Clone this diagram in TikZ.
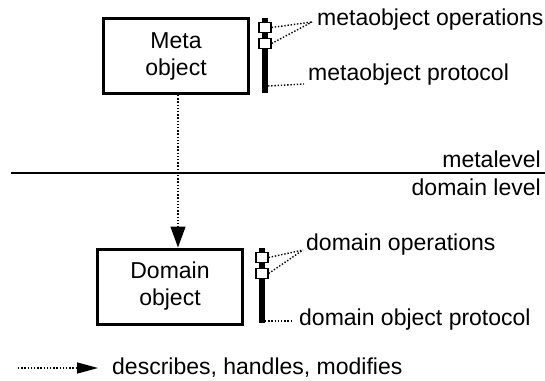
\documentclass[tikz,border=0pt]{standalone}
\usepackage{fontspec}
\setmainfont{Liberation Sans}
\usetikzlibrary{arrows.meta}
\begin{document}
\begin{tikzpicture}[x=1pt,y=-1pt,
  txt/.style={inner sep=0pt,font=\fontsize{23}{27}\selectfont},
  objbox/.style={draw,line width=3pt,minimum width=145pt,minimum height=75pt,align=center,inner sep=0pt,font=\fontsize{23}{27}\selectfont},
  bar/.style={fill=black,draw=none,minimum width=6pt,inner sep=0pt},
  opsq/.style={draw,fill=white,line width=1.2pt,minimum width=12pt,minimum height=10pt,inner sep=0pt},
  dots/.style={line width=1.4pt,dash pattern=on 1.4pt off 1.8pt},
  lbl/.style={txt,anchor=west}]
\useasboundingbox (0,0) rectangle (545,380);

% meta level
\node[objbox] (meta) at (176,56) {Meta\\object};
\node[bar,minimum height=75pt] (mbar) at (265,55.5) {};
\node[opsq] (mop1) at (265,27.5) {};
\node[opsq] (mop2) at (265,43.5) {};
\node[lbl] (mopl) at (317,20) {metaobject operations};
\node[lbl] (mprl) at (308,75) {metaobject protocol};
\coordinate (mopc) at (312,22);
\draw[dots] (mop1.east) -- (mopc);
\draw[dots] (mop2.east) -- (mopc);
\coordinate (mbarend) at (268,86);
\draw[dots] (mbarend) -- (304,84);

% level separator
\coordinate (sepL) at (11,173);
\coordinate (sepR) at (545,173);
\draw[line width=1.3pt] (sepL) -- (sepR);
\node[txt,anchor=east] (metalevel) at (541,159) {metalevel};
\node[txt,anchor=east] (domlevel) at (541,187) {domain level};

% domain level
\node[objbox] (dom) at (170,286.5) {Domain\\object};
\node[bar,minimum height=75pt] (dbar) at (261.5,285.5) {};
\node[opsq] (dop1) at (262,257.5) {};
\node[opsq] (dop2) at (262,273.5) {};
\node[lbl] (dopl) at (306,245) {domain operations};
\node[lbl] (dprl) at (299,320) {domain object protocol};
\coordinate (dopc) at (303,250);
\draw[dots] (dop1.east) -- (dopc);
\draw[dots] (dop2.east) -- (dopc);
\coordinate (dbarend) at (265,321);
\draw[dots] (dbarend) -- (293,321);

% relation
\draw[dots,-{Triangle[length=21pt,width=15pt]}] (meta.south -| 178,0) -- (dom.north -| 178,0);

% legend
\coordinate (legA) at (18,368);
\node[lbl] (legt) at (112,368) {describes, handles, modifies};
\draw[dots,-{Triangle[length=21pt,width=11pt]}] (legA) -- (98,368);
\end{tikzpicture}
\end{document}
